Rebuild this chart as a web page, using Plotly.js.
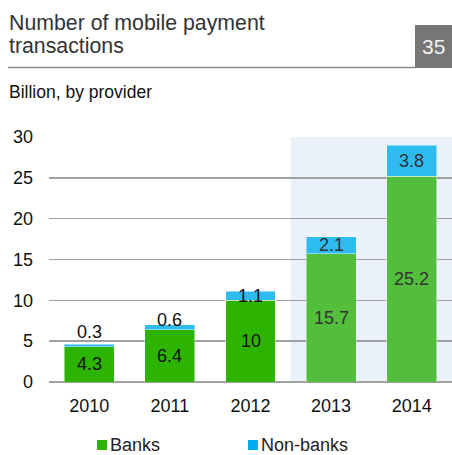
<!DOCTYPE html>
<html>
<head>
<meta charset="utf-8">
<script src="https://cdn.plot.ly/plotly-3.0.1.min.js"></script>
<style>
html,body{margin:0;padding:0;background:#fff;}
#chart{width:452px;height:455px;}
</style>
</head>
<body>
<div id="chart"></div>
<script>
// ---- data ----
const years = ['2010', '2011', '2012', '2013', '2014'];
const banks = [4.3, 6.4, 10, 15.7, 25.2];
const nonBanks = [0.3, 0.6, 1.1, 2.1, 3.8];
const yTicks = [0, 5, 10, 15, 20, 25, 30];
const seriesNames = ['Banks', 'Non-banks'];
const titleLines = ['Number of mobile payment', 'transactions'];
const subtitle = 'Billion, by provider';
const pageNumber = '35';
const forecastFrom = '2013';

// ---- styles ----
const FONT = 'Liberation Sans, Arial, sans-serif';
const bankColors = years.map(y => (y >= forecastFrom ? '#52BE3C' : '#2DB400'));
const nonBankColor = '#2EBBF0';
const labelColors = years.map(y => (y >= forecastFrom ? '#333333' : '#111111'));

// plot area in pixels
const L = 49, R = 452, T = 137, B = 382, W = 452, H = 455;
const pw = R - L, ph = B - T;
const px = x => (x - L) / pw;      // pixel -> paper x
const py = y => (B - y) / ph;      // pixel -> paper y

const traces = [
  {
    type: 'bar', name: seriesNames[0], x: years, y: banks,
    marker: {color: bankColors, line: {color: 'rgba(255,255,255,0.45)', width: 1}},
    width: 0.62, hoverinfo: 'x+y', showlegend: false
  },
  {
    type: 'bar', name: seriesNames[1], x: years, y: nonBanks,
    marker: {color: nonBankColor, line: {color: 'rgba(255,255,255,0.45)', width: 1}},
    width: 0.62, hoverinfo: 'x+y', showlegend: false
  }
];

const annotations = [];
years.forEach((yr, i) => {
  // category index i corresponds to years[i] on the category axis
  annotations.push({
    x: i, y: banks[i] / 2, xref: 'x', yref: 'y', text: String(banks[i]),
    showarrow: false, xanchor: 'center', yanchor: 'middle',
    font: {family: FONT, size: 18, color: labelColors[i]}
  });
  const shift = Math.max(0, (1.0 - nonBanks[i]) * 19);
  annotations.push({
    x: i, y: banks[i] + nonBanks[i] / 2, xref: 'x', yref: 'y', text: String(nonBanks[i]),
    showarrow: false, xanchor: 'center', yanchor: 'middle', yshift: shift,
    font: {family: FONT, size: 18, color: labelColors[i]}
  });
});

// titles
annotations.push({
  xref: 'paper', yref: 'paper', x: px(7), y: py(23), xanchor: 'left', yanchor: 'middle',
  text: titleLines[0], showarrow: false, font: {family: FONT, size: 21.3, color: '#333333'}
});
annotations.push({
  xref: 'paper', yref: 'paper', x: px(7), y: py(46), xanchor: 'left', yanchor: 'middle',
  text: titleLines[1], showarrow: false, font: {family: FONT, size: 21.3, color: '#333333'}
});
annotations.push({
  xref: 'paper', yref: 'paper', x: px(433.5), y: py(46), xanchor: 'center', yanchor: 'middle',
  text: pageNumber, showarrow: false, font: {family: FONT, size: 21, color: '#F2F2F2'}
});
annotations.push({
  xref: 'paper', yref: 'paper', x: px(7), y: py(92), xanchor: 'left', yanchor: 'middle',
  text: subtitle, showarrow: false, font: {family: FONT, size: 17.5, color: '#111111'}
});
// legend labels
annotations.push({
  xref: 'paper', yref: 'paper', x: px(108), y: py(445), xanchor: 'left', yanchor: 'middle',
  text: seriesNames[0], showarrow: false, font: {family: FONT, size: 18, color: '#222222'}
});
annotations.push({
  xref: 'paper', yref: 'paper', x: px(259), y: py(445), xanchor: 'left', yanchor: 'middle',
  text: seriesNames[1], showarrow: false, font: {family: FONT, size: 18, color: '#222222'}
});

const shapes = [
  // forecast shading
  {type: 'rect', xref: 'x', yref: 'y', x0: 2.5, x1: 4.6, y0: 0, y1: yTicks[yTicks.length - 1],
   fillcolor: '#EBF1FA', line: {width: 0}, layer: 'below'},
  // title rule
  {type: 'line', xref: 'paper', yref: 'paper', x0: px(8), x1: px(415), y0: py(67.5), y1: py(67.5),
   line: {color: '#8a8a8a', width: 1.5}},
  // page number box
  {type: 'rect', xref: 'paper', yref: 'paper', x0: px(415), x1: px(453), y0: py(25), y1: py(68),
   fillcolor: '#767676', line: {width: 0}},
  // legend swatches
  {type: 'rect', xref: 'paper', yref: 'paper', x0: px(97), x1: px(107), y0: py(440), y1: py(450),
   fillcolor: '#2DB400', line: {width: 0}},
  {type: 'rect', xref: 'paper', yref: 'paper', x0: px(248), x1: px(258), y0: py(440), y1: py(450),
   fillcolor: '#00AEEF', line: {width: 0}}
];

const layout = {
  width: W, height: H,
  margin: {l: L, r: W - R, t: T, b: H - B, pad: 0},
  paper_bgcolor: '#ffffff', plot_bgcolor: 'rgba(0,0,0,0)',
  barmode: 'stack', bargap: 0.38,
  showlegend: false,
  font: {family: FONT, size: 18, color: '#111111'},
  xaxis: {
    type: 'category', range: [-0.5, 4.5], showgrid: false, zeroline: false,
    showline: false, ticks: '', ticklabelstandoff: 11,
    tickfont: {family: FONT, size: 18, color: '#111111'},
    fixedrange: true
  },
  yaxis: {
    range: [0, 30], tickvals: yTicks, ticktext: yTicks.map(String),
    showgrid: true, gridcolor: '#A0A0A0', gridwidth: 1.5,
    zeroline: true, zerolinecolor: '#A0A0A0', zerolinewidth: 1.5,
    showline: false, ticks: '', ticklabelstandoff: 15,
    tickfont: {family: FONT, size: 18, color: '#111111'}, fixedrange: true
  },
  shapes: shapes,
  annotations: annotations
};

Plotly.newPlot('chart', traces, layout, {displayModeBar: false, staticPlot: true});
</script>
</body>
</html>
